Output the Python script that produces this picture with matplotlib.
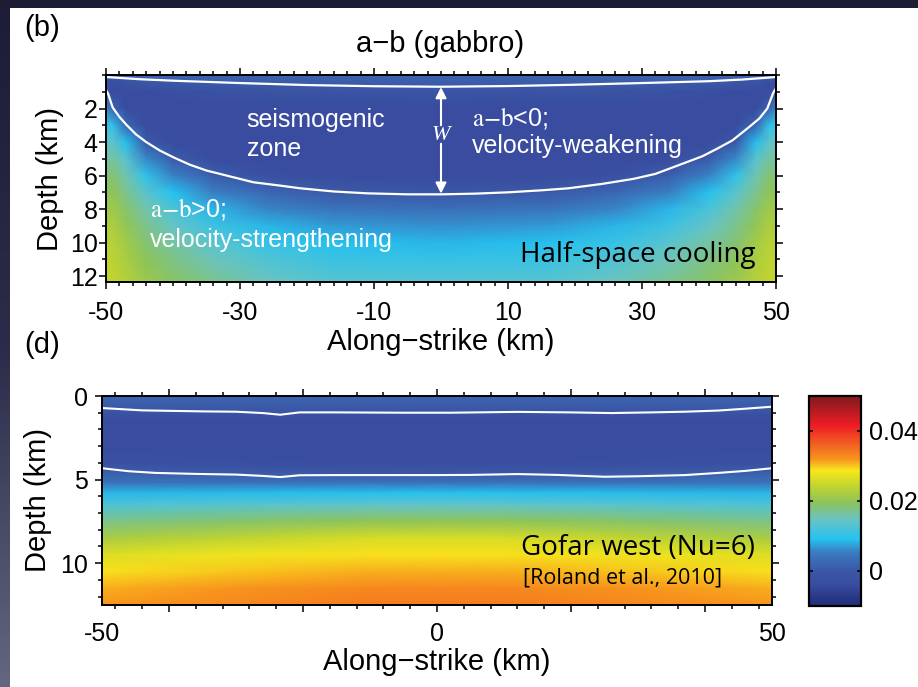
import matplotlib
matplotlib.use("Agg")
import matplotlib.pyplot as plt
import numpy as np
from matplotlib.colors import LinearSegmentedColormap, Normalize
from matplotlib.patches import Rectangle
from matplotlib.ticker import MultipleLocator, FixedLocator

plt.rcParams['font.family'] = ['Liberation Sans', 'DejaVu Sans']
plt.rcParams['mathtext.fontset'] = 'stix'
plt.rcParams['axes.unicode_minus'] = False

# colour scale of a-b
cmap_vals = [-0.010, -0.0081, -0.004, 0.0, 0.0053, 0.0091, 0.0148, 0.0196,
             0.0244, 0.0287, 0.032, 0.0368, 0.0416, 0.0483, 0.050]
cmap_cols = ['#222e7a', '#253585', '#394c9f', '#3b57a6', '#3a7cc1', '#26c2f0',
             '#6ac3c4', '#8dc35a', '#c3d52e', '#f8e71c', '#f7941d', '#f15a22',
             '#ee1c25', '#951b1f', '#861a1d']
cbar_ticks = [0, 0.02, 0.04]
cbar_labels = ['0', '0.02', '0.04']

# (b) half-space cooling: a-b on a grid, from x = -50 to the centre (mirror-symmetric)
b_x_half = [-50, -49, -47, -44, -40, -34, -26, -16, 0]
b_depth = [0, 0.4, 1, 2, 3, 4, 5, 6, 7, 8, 9, 10, 11, 12.4]
b_ab_half = [
    [0.002, 0.002, 0.002, 0.002, 0.002, 0.002, 0.002, 0.002, 0.002],
    [-0.003, -0.003, -0.001, 0.0, 0.0004, 0.0006, 0.0008, 0.0009, 0.0009],
    [-0.001, -0.004, -0.004, -0.0035, -0.003, -0.002, -0.0015, -0.0013, -0.0012],
    [0.006, 0.0015, -0.004, -0.004, -0.004, -0.004, -0.004, -0.004, -0.004],
    [0.011, 0.0100, 0.002, -0.004, -0.004, -0.004, -0.004, -0.004, -0.004],
    [0.014, 0.0140, 0.0088, 0.0, -0.004, -0.004, -0.004, -0.004, -0.004],
    [0.016, 0.0165, 0.0133, 0.006, 0.0006, -0.0037, -0.004, -0.004, -0.004],
    [0.018, 0.0185, 0.0156, 0.0100, 0.0056, 0.0009, -0.0025, -0.0037, -0.004],
    [0.0195, 0.0200, 0.0172, 0.0135, 0.0092, 0.0054, 0.0024, 0.0003, -0.0003],
    [0.021, 0.0212, 0.0188, 0.0158, 0.0122, 0.0085, 0.0058, 0.0041, 0.0036],
    [0.022, 0.0224, 0.0202, 0.0172, 0.0146, 0.0110, 0.0084, 0.0069, 0.0064],
    [0.023, 0.0233, 0.0213, 0.0185, 0.0163, 0.0134, 0.0106, 0.0090, 0.0085],
    [0.0238, 0.0238, 0.0222, 0.0196, 0.0176, 0.0152, 0.0127, 0.0108, 0.0104],
    [0.0245, 0.0243, 0.0232, 0.0210, 0.0192, 0.0172, 0.0150, 0.0134, 0.013],
]
# a-b = 0 contours of (b)
b_top_x = [-50, -45, -40, -30, -20, -10, 0, 10, 20, 30, 40, 45, 50]
b_top_d = [0.12, 0.25, 0.34, 0.48, 0.60, 0.67, 0.70, 0.66, 0.58, 0.48, 0.37, 0.27, 0.12]
b_bot_x = [-50, -49.7, -49, -48, -47, -45.5, -44, -42, -40, -37.5, -35, -31, -28, -24,
           -21, -16, -11, -5, 0, 5, 10, 15, 19, 24, 28.7, 32, 36, 39, 41.2, 43.5, 46,
           47.5, 48.7, 49.6, 50]
b_bot_d = [0.9, 1.1, 1.94, 2.5, 2.95, 3.55, 4.0, 4.5, 4.9, 5.35, 5.7, 6.1, 6.4, 6.6,
           6.76, 6.95, 7.06, 7.12, 7.12, 7.08, 7.0, 6.88, 6.76, 6.5, 6.2, 5.9, 5.3,
           4.85, 4.4, 3.9, 3.1, 2.6, 2.0, 1.05, 0.8]

# (d) Gofar west: a-b on a grid
d_x = [-50, -30, -10, 0, 10, 30, 50]
d_depth = [0, 0.5, 1.2, 2, 3, 4, 4.6, 5.2, 5.8, 6.5, 7.5, 8.5, 9.5, 10.5, 11.5, 12.5]
d_ab = [
    [0.002, 0.002, 0.002, 0.002, 0.002, 0.002, 0.002],
    [0.0008, 0.0008, 0.0009, 0.0009, 0.0009, 0.0008, 0.0008],
    [-0.003, -0.003, -0.003, -0.003, -0.003, -0.003, -0.003],
    [-0.004, -0.004, -0.004, -0.004, -0.004, -0.004, -0.004],
    [-0.004, -0.004, -0.004, -0.004, -0.004, -0.004, -0.004],
    [-0.0025, -0.003, -0.0035, -0.0035, -0.0035, -0.003, -0.0025],
    [0.0012, 0.0003, -0.0003, -0.0003, -0.0003, 0.0003, 0.0012],
    [0.0042, 0.004, 0.004, 0.004, 0.004, 0.004, 0.0042],
    [0.0085, 0.0088, 0.009, 0.009, 0.009, 0.0088, 0.0085],
    [0.0125, 0.0133, 0.014, 0.014, 0.014, 0.0133, 0.0125],
    [0.0175, 0.0188, 0.020, 0.020, 0.020, 0.0188, 0.0175],
    [0.022, 0.024, 0.026, 0.026, 0.026, 0.024, 0.022],
    [0.0265, 0.028, 0.029, 0.029, 0.029, 0.028, 0.0265],
    [0.029, 0.030, 0.031, 0.031, 0.031, 0.030, 0.029],
    [0.031, 0.032, 0.033, 0.033, 0.033, 0.032, 0.031],
    [0.032, 0.033, 0.034, 0.034, 0.034, 0.033, 0.032],
]
d_top_x = [-50, -44, -35, -30, -26, -23.4, -20.5, -15, -5, 2, 12, 20, 26, 32, 37, 42, 46, 50]
d_top_d = [0.72, 0.86, 0.92, 0.94, 1.02, 1.12, 0.98, 0.98, 1.0, 1.0, 0.95, 0.98, 1.02,
           0.98, 0.94, 0.87, 0.76, 0.64]
d_bot_x = [-50, -46, -42, -36, -30, -26, -23.4, -20.5, -15, -10, 0, 5, 12, 18, 25, 30,
           37, 42, 46, 50]
d_bot_d = [4.32, 4.5, 4.6, 4.66, 4.7, 4.78, 4.85, 4.74, 4.73, 4.73, 4.73, 4.72, 4.67,
           4.72, 4.83, 4.8, 4.73, 4.6, 4.48, 4.32]

vmin, vmax = -0.01, 0.05
pos = [(v - vmin) / (vmax - vmin) for v in cmap_vals]
cmap = LinearSegmentedColormap.from_list('ab', list(zip(pos, cmap_cols)), N=512)
norm = Normalize(vmin, vmax)

W, H = 918, 687
fig = plt.figure(figsize=(W / 100, H / 100), dpi=100, facecolor='#1d1c35')
# white slide area and the shaded strip at the left
fig.patches.append(Rectangle((10 / W, 0), 1 - 10 / W, 1 - 8 / H, transform=fig.transFigure,
                             facecolor='white', edgecolor='none', zorder=-10))
strip = fig.add_axes([0, 0, 10 / W, 1 - 8 / H])
grad = LinearSegmentedColormap.from_list('strip', ['#1e1d37', '#2c2c4a', '#62667f'])
strip.imshow(np.linspace(0, 1, 100)[:, None], aspect='auto', cmap=grad)
strip.axis('off')


def px_axes(left, top, right, bottom):
    return [left / W, 1 - bottom / H, (right - left) / W, (bottom - top) / H]


def style_axes(ax):
    for s in ax.spines.values():
        s.set_linewidth(1.4)
    ax.tick_params(which='both', direction='out', top=True, right=True, width=1.1,
                   labelsize=18, colors='black')
    ax.tick_params(which='major', length=5)
    ax.tick_params(which='minor', length=3)


# ---- panel (b)
ax1 = fig.add_axes(px_axes(106, 75, 776, 282))
b_x = b_x_half + [-v for v in b_x_half[-2::-1]]
b_ab = np.array(b_ab_half)
b_ab = np.hstack([b_ab, b_ab[:, -2::-1]])
X, Y = np.meshgrid(b_x, b_depth)
ax1.pcolormesh(X, Y, b_ab, cmap=cmap, norm=norm, shading='gouraud', rasterized=True)
ax1.plot(b_top_x, b_top_d, color='white', lw=1.6)
ax1.plot(b_bot_x, b_bot_d, color='white', lw=1.6)
ax1.set_xlim(-50, 50)
ax1.set_ylim(12.35, 0)
ax1.set_xticks([-50, -30, -10, 10, 30, 50])
ax1.set_xticklabels(['-50', '-30', '-10', '10', '30', '50'])
ax1.xaxis.set_minor_locator(MultipleLocator(2))
ax1.set_yticks([2, 4, 6, 8, 10, 12])
ax1.yaxis.set_minor_locator(MultipleLocator(1))
style_axes(ax1)
ax1.tick_params(axis='x', pad=9)
ax1.tick_params(axis='y', pad=1)
ax1.set_xlabel('Along\u2212strike (km)', fontsize=21, labelpad=2)
ax1.set_ylabel('Depth (km)', fontsize=21, labelpad=4)

# W arrow
arrow = dict(arrowstyle='-|>', color='white', lw=1.5, mutation_scale=16, shrinkA=0, shrinkB=0)
ax1.annotate('', xy=(0, 0.72), xytext=(0, 3.0), arrowprops=arrow)
ax1.annotate('', xy=(0, 7.08), xytext=(0, 4.1), arrowprops=arrow)
ax1.text(0, 3.6, 'W', color='white', fontsize=16, family='Liberation Serif',
         style='italic', ha='center', va='center')

ax1.text(-29.0, 3.13, 'seismogenic', color='white', fontsize=18, va='baseline')
ax1.text(-29.0, 4.86, 'zone', color='white', fontsize=18, va='baseline')
ax1.text(4.6, 3.0, r'$\mathrm{a{-}b}$<0;', color='white', fontsize=18, va='baseline')
ax1.text(4.6, 4.68, 'velocity-weakening', color='white', fontsize=18, va='baseline')
ax1.text(-43.4, 8.43, r'$\mathrm{a{-}b}$>0;', color='white', fontsize=18, va='baseline')
ax1.text(-43.4, 10.27, 'velocity-strengthening', color='white', fontsize=18, va='baseline')
ax1.text(46.9, 11.15, 'Half-space cooling', color='black', fontsize=20,
         family='Open Sans', ha='right', va='baseline')

fig.text(24 / W, 1 - 36 / H, '(b)', fontsize=21, va='baseline')
fig.text(440 / W, 1 - 52 / H, 'a\u2212b (gabbro)', fontsize=21, ha='center', va='baseline')
fig.text(24 / W, 1 - 353 / H, '(d)', fontsize=21, va='baseline')

# ---- panel (d)
ax2 = fig.add_axes(px_axes(102, 396, 772, 605))
X2, Y2 = np.meshgrid(d_x, d_depth)
mesh = ax2.pcolormesh(X2, Y2, np.array(d_ab), cmap=cmap, norm=norm, shading='gouraud',
                      rasterized=True)
ax2.plot(d_top_x, d_top_d, color='white', lw=1.5)
ax2.plot(d_bot_x, d_bot_d, color='white', lw=1.5)
ax2.set_xlim(-50, 50)
ax2.set_ylim(12.5, 0)
ax2.set_xticks([-50, -40, -20, 0, 20, 40, 50])
ax2.set_xticklabels(['-50', '', '', '0', '', '', '50'])
ax2.xaxis.set_minor_locator(FixedLocator([v for v in range(-48, 49, 4) if v % 20 != 0]))
ax2.set_yticks([0, 5, 10])
ax2.yaxis.set_minor_locator(MultipleLocator(1))
style_axes(ax2)
for t in (ax2.xaxis.get_major_ticks()[0], ax2.xaxis.get_major_ticks()[-1]):
    t.tick1line.set_visible(False)
    t.tick2line.set_visible(False)
ax2.tick_params(axis='x', pad=7)
ax2.tick_params(axis='y', pad=5)
ax2.set_xlabel('Along\u2212strike (km)', fontsize=21, labelpad=2)
ax2.set_ylabel('Depth (km)', fontsize=21, labelpad=6)
ax2.text(12.6, 9.51, 'Gofar west (Nu=6)', color='black', fontsize=20,
         family='Open Sans', va='baseline')
ax2.text(12.8, 11.2, '[Roland et al., 2010]', color='black', fontsize=15.5,
         family='Open Sans', va='baseline')

# ---- colour bar
cax = fig.add_axes(px_axes(809, 396, 861, 606))
cb = fig.colorbar(mesh, cax=cax, ticks=cbar_ticks)
cb.set_ticklabels(cbar_labels)
cb.outline.set_linewidth(1.6)
cax.tick_params(which='both', direction='in', left=True, right=True, length=3,
                width=1.1, labelsize=18, pad=6)

fig.savefig('out.png', dpi=100, facecolor=fig.get_facecolor())
